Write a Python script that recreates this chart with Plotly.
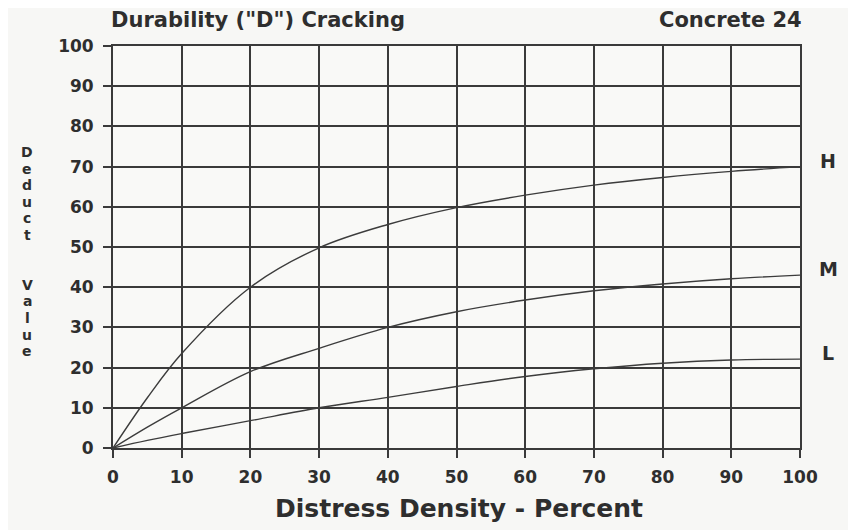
import plotly.graph_objects as go

# Data
density = [0, 5, 10, 20, 30, 40, 50, 60, 70, 80, 90, 100]
deduct_h = [0, 12.5, 23.5, 40, 49.8, 55.6, 59.8, 62.9, 65.4, 67.3, 68.8, 70]
deduct_m = [0, 5.2, 10, 19, 24.8, 30, 33.9, 36.8, 39.1, 40.8, 42.1, 43]
deduct_l = [0, 1.9, 3.6, 6.8, 10, 12.6, 15.3, 17.8, 19.7, 21.1, 21.9, 22.1]
series = [("H", deduct_h), ("M", deduct_m), ("L", deduct_l)]

tick_vals = list(range(0, 101, 10))
y_title_letters = ["D", "e", "d", "u", "c", "t", "", "", "V", "a", "l", "u", "e"]

INK = "#3a3a3a"
TXT = "#2e2e2e"
FONT = "DejaVu Sans"

fig = go.Figure()
for name, vals in series:
    fig.add_trace(go.Scatter(
        x=density, y=vals, mode="lines", name=name,
        line=dict(color="#3c3c3c", width=1.4, shape="spline", smoothing=1.0),
        showlegend=False, hoverinfo="skip",
    ))

annotations = []
for name, vals in series:
    annotations.append(dict(
        x=density[-1], y=vals[-1], xref="x", yref="y", text=f"<b>{name}</b>",
        showarrow=False, xanchor="center", yanchor="middle",
        xshift=28, yshift=6, font=dict(family=FONT, size=19, color=TXT),
    ))

# Titles
annotations.append(dict(
    x=0, y=1, xref="paper", yref="paper", text="<b>Durability (\"D\") Cracking</b>",
    showarrow=False, xanchor="left", yanchor="middle", xshift=-4, yshift=26,
    font=dict(family=FONT, size=21, color=TXT),
))
annotations.append(dict(
    x=1, y=1, xref="paper", yref="paper", text="<b>Concrete 24</b>",
    showarrow=False, xanchor="right", yanchor="middle", xshift=4, yshift=26,
    font=dict(family=FONT, size=21, color=TXT),
))

# X-axis title
annotations.append(dict(
    x=0.5, y=0, xref="paper", yref="paper", text="<b>Distress Density - Percent</b>",
    showarrow=False, xanchor="center", yanchor="middle", xshift=2, yshift=-60,
    font=dict(family=FONT, size=25, color=TXT),
))

# Vertical stacked y-axis title
for i, ch in enumerate(y_title_letters):
    if not ch:
        continue
    annotations.append(dict(
        x=0, y=1, xref="paper", yref="paper", text=f"<b>{ch}</b>",
        showarrow=False, xanchor="center", yanchor="middle",
        xshift=-86, yshift=-(106 + i * 16.6),
        font=dict(family=FONT, size=14, color=TXT),
    ))

axis_common = dict(
    range=[0, 100], tickvals=tick_vals, ticktext=[f"<b>{v}</b>" for v in tick_vals],
    showgrid=True, gridcolor=INK, gridwidth=1.8,
    showline=True, linecolor=INK, linewidth=1.8, mirror=True,
    ticks="outside", ticklen=8, tickwidth=1.8, tickcolor=INK,
    zeroline=False, fixedrange=True,
    tickfont=dict(family=FONT, size=17, color=TXT),
)

fig.update_layout(
    width=848, height=522,
    margin=dict(l=105, r=56, t=38, b=82),
    paper_bgcolor="#f7f7f5", plot_bgcolor="#f9f9f7",
    xaxis=dict(**axis_common, ticklabelstandoff=5),
    yaxis=dict(**axis_common, ticklabelstandoff=6),
    annotations=annotations,
)

fig.write_html("out.html")
